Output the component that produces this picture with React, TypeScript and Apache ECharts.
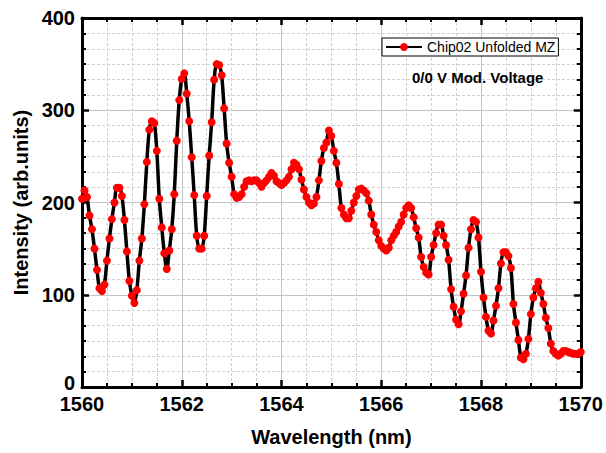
import React, { useEffect, useRef } from "react";
import * as echarts from "echarts";

// Sampling grid of the measurement (nm)
const WL_START = 1560;
const WL_STEP = 0.05;

// Intensity readings (arb. units), one per wavelength sample
const intensity = [
  204, 213, 206, 186, 171, 150, 127, 107, 104, 111,
  137, 161, 182, 200, 216, 216, 207, 181, 147, 115,
  99, 91, 105, 137, 161, 198, 244, 279, 288, 286,
  256, 204, 173, 145, 128, 148, 171, 209, 267, 311,
  334, 340, 318, 288, 249, 208, 164, 150, 150, 164,
  207, 251, 287, 333, 350, 349, 338, 302, 264, 243,
  228, 209, 205, 206, 209, 217, 223, 224, 223, 224,
  224, 221, 217, 221, 224, 228, 232, 229, 223, 221,
  219, 221, 224, 228, 236, 243, 241, 236, 225, 214,
  206, 200, 197, 199, 206, 224, 245, 259, 265, 278,
  272, 256, 243, 220, 194, 187, 183, 183, 191, 200,
  207, 214, 215, 213, 210, 202, 187, 176, 168, 159,
  153, 150, 148, 151, 159, 164, 168, 174, 179, 187,
  194, 197, 194, 184, 172, 162, 141, 130, 124, 122,
  141, 154, 167, 176, 176, 164, 154, 138, 106, 87,
  73, 68, 82, 101, 121, 151, 171, 181, 179, 162,
  125, 97, 76, 61, 58, 72, 88, 107, 134, 146,
  146, 142, 129, 90, 70, 51, 32, 30, 36, 52,
  79, 97, 107, 114, 102, 90, 75, 64, 47, 39,
  36, 34, 36, 39, 39, 38, 37, 36, 36, 36,
  38,
];

const SERIES_NAME = "Chip02 Unfolded MZ";
const ANNOTATION = "0/0 V Mod. Voltage";
const X_NAME = "Wavelength (nm)";
const Y_NAME = "Intensity (arb.units)";

const FONT = "Liberation Sans, Arial, sans-serif";

export default function App() {
  const ref = useRef<HTMLDivElement>(null);

  useEffect(() => {
    if (!ref.current) return;
    const chart = echarts.init(ref.current, undefined, { renderer: "svg" });

    const data = intensity.map((v, i) => [
      +(WL_START + i * WL_STEP).toFixed(2),
      v,
    ]);

    const axisLine = { show: true, onZero: false, lineStyle: { color: "#000", width: 3 } };
    const axisTick = { show: true, inside: true, length: 7, lineStyle: { color: "#000", width: 2.5 } };
    const minorTick = { show: true, length: 4, lineStyle: { color: "#000", width: 2 } };

    const option: any = {
      animation: false,
      backgroundColor: "#fff",
      textStyle: { fontFamily: FONT },
      grid: { left: 82, right: 23, top: 18, bottom: 66, containLabel: false },
      legend: {
        data: [SERIES_NAME],
        left: 382,
        top: 38,
        itemWidth: 36,
        itemHeight: 10,
        padding: [2, 3, 2, 3],
        borderColor: "#000",
        borderWidth: 1,
        borderRadius: 0,
        backgroundColor: "#fff",
        textStyle: { fontSize: 14, fontFamily: FONT, color: "#000" },
      },
      graphic: [
        {
          type: "text",
          left: 412,
          top: 70,
          z: 10,
          style: { text: ANNOTATION, font: `bold 15px ${FONT}`, fill: "#000" },
        },
      ],
      xAxis: [
        {
          type: "value",
          min: 1560,
          max: 1570,
          interval: 2,
          position: "bottom",
          name: X_NAME,
          nameLocation: "middle",
          nameGap: 40,
          nameTextStyle: { fontSize: 20, fontWeight: "bold", color: "#000", fontFamily: FONT },
          axisLine,
          axisTick,
          minorTick: { ...minorTick, splitNumber: 4 },
          axisLabel: {
            fontSize: 20,
            lineHeight: 16,
            fontWeight: "bold",
            color: "#000",
            margin: 9,
            fontFamily: FONT,
            formatter: (v: number) => String(v),
          },
          splitLine: { show: true, lineStyle: { color: "#c4c4c4", width: 1 } },
          minorSplitLine: { show: true, lineStyle: { color: "#cfcfcf", width: 1, type: [3, 2] } },
        },
        {
          type: "value",
          min: 1560,
          max: 1570,
          interval: 2,
          position: "top",
          axisLine,
          axisTick,
          minorTick: { ...minorTick, splitNumber: 4 },
          axisLabel: { show: false },
          splitLine: { show: false },
        },
      ],
      yAxis: [
        {
          type: "value",
          min: 0,
          max: 400,
          interval: 100,
          position: "left",
          name: Y_NAME,
          nameLocation: "middle",
          nameGap: 49,
          nameTextStyle: { fontSize: 20, fontWeight: "bold", color: "#000", fontFamily: FONT },
          axisLine,
          axisTick,
          minorTick: { ...minorTick, splitNumber: 6 },
          axisLabel: {
            fontSize: 20,
            lineHeight: 13,
            fontWeight: "bold",
            color: "#000",
            margin: 7,
            fontFamily: FONT,
            formatter: (v: number) => (v === 0 ? "{z|0}" : String(v)),
            rich: {
              z: {
                fontSize: 20,
                lineHeight: 13,
                fontWeight: "bold",
                color: "#000",
                fontFamily: FONT,
                padding: [0, 0, 8, 0],
              },
            },
          },
          splitLine: { show: true, lineStyle: { color: "#c4c4c4", width: 1 } },
          minorSplitLine: { show: true, lineStyle: { color: "#cfcfcf", width: 1, type: [3, 2] } },
        },
        {
          type: "value",
          min: 0,
          max: 400,
          interval: 100,
          position: "right",
          axisLine,
          axisTick,
          minorTick: { ...minorTick, splitNumber: 6 },
          axisLabel: { show: false },
          splitLine: { show: false },
        },
      ],
      series: [
        {
          name: SERIES_NAME,
          type: "line",
          data,
          xAxisIndex: 0,
          yAxisIndex: 0,
          smooth: 0.3,
          symbol: "circle",
          symbolSize: 8,
          showSymbol: true,
          showAllSymbol: true,
          clip: true,
          itemStyle: { color: "#ff0000" },
          lineStyle: { color: "#000", width: 3.5 },
          emphasis: { disabled: true },
        },
      ],
    };

    chart.setOption(option);
    return () => chart.dispose();
  }, []);

  return (
    <div
      ref={ref}
      style={{ position: "fixed", left: 0, top: 0, width: 606, height: 453 }}
    />
  );
}
